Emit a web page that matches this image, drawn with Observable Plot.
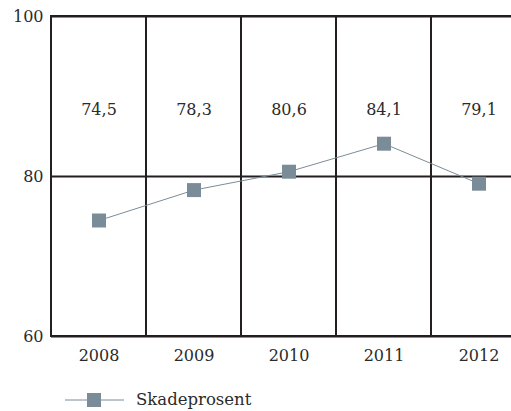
<!DOCTYPE html>
<html>
<head>
<meta charset="utf-8">
<script src="https://cdn.jsdelivr.net/npm/d3@7"></script>
<script src="https://cdn.jsdelivr.net/npm/@observablehq/plot@0.6"></script>
<style>
  html, body { margin: 0; padding: 0; background: #fff; overflow: hidden; }
  #chart svg { display: block; overflow: hidden; }
  .legend { position: relative; height: 41px; font-family: "DejaVu Serif", serif; font-size: 16.5px; color: #2b2b2b; }
  .legend svg { position: absolute; left: 64px; top: 22px; }
  .legend span { position: absolute; left: 136px; top: 20px; }
</style>
</head>
<body>
<div id="chart"></div>
<div class="legend">
  <svg width="62" height="16"><line x1="1" y1="8" x2="60" y2="8" stroke="#7b8c99" stroke-width="1"/><rect x="23" y="1" width="14" height="14" fill="#7b8c99"/></svg>
  <span>Skadeprosent</span>
</div>
<script>
// Skadeprosent per år
const years = ["2008", "2009", "2010", "2011", "2012"];
const skadeprosent = [74.5, 78.3, 80.6, 84.1, 79.1];
const yTicks = [60, 80, 100];

const data = years.map((year, i) => ({year, value: skadeprosent[i]}));
const fmt = v => v.toFixed(1).replace(".", ",");

const gridColor = "#231f20";
const seriesColor = "#7b8c99";

const chart = Plot.plot({
  width: 511,
  height: 370,
  marginTop: 16,
  marginLeft: 51,
  marginRight: 0,
  marginBottom: 34,
  style: {fontFamily: "DejaVu Serif, serif", fontSize: "16px", color: "#2b2b2b", background: "#fff"},
  x: {type: "band", domain: years, range: [51, 526], padding: 0, label: null},
  y: {domain: [60, 100], ticks: yTicks, label: null},
  marks: [
    // one bordered column per year
    Plot.cell(years, {x: d => d, fill: "none", stroke: gridColor, strokeWidth: 2}),
    Plot.ruleY(yTicks, {stroke: gridColor, strokeWidth: 2}),
    Plot.axisY({ticks: yTicks, tickSize: 0, tickPadding: 8, fontSize: 16}),
    Plot.axisX({tickSize: 0, tickPadding: 13, fontSize: 16}),
    // value row along the top
    Plot.text(data, {x: "year", text: d => fmt(d.value), frameAnchor: "top", dy: 87, fontSize: 16}),
    Plot.line(data, {x: "year", y: "value", stroke: seriesColor, strokeWidth: 1}),
    Plot.dot(data, {x: "year", y: "value", symbol: "square", r: 7.9, fill: seriesColor, stroke: "none"})
  ]
});

document.getElementById("chart").appendChild(chart);
</script>
</body>
</html>
